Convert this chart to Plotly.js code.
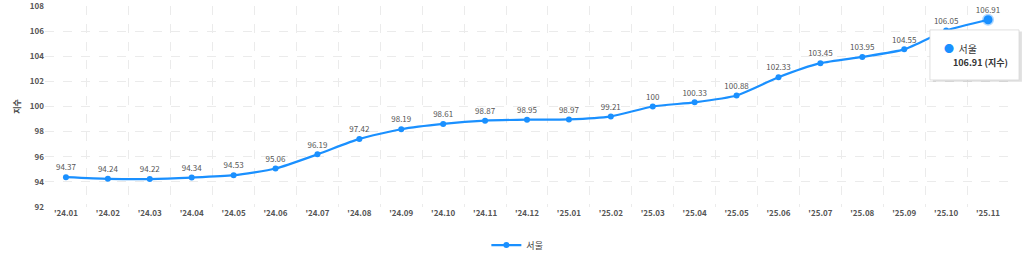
<!DOCTYPE html>
<html><head><meta charset="utf-8">
<script src="https://cdn.plot.ly/plotly-3.0.1.min.js"></script>
<style>html,body{margin:0;padding:0;background:#fff;}#chart{width:1024px;height:261px;}</style>
</head><body><div id="chart"></div>
<script>
const categories = ["'24.01","'24.02","'24.03","'24.04","'24.05","'24.06","'24.07","'24.08","'24.09","'24.10","'24.11","'24.12","'25.01","'25.02","'25.03","'25.04","'25.05","'25.06","'25.07","'25.08","'25.09","'25.10","'25.11"];
const seoul = [94.37,94.24,94.22,94.34,94.53,95.06,96.19,97.42,98.19,98.61,98.87,98.95,98.97,99.21,100,100.33,100.88,102.33,103.45,103.95,104.55,106.05,106.91];
const seriesName = "서울";
const yTicks = [92,94,96,98,100,102,104,106,108];
const unit = "지수";

const lineColor = "#1a90ff";
const font = "'Noto Sans CJK KR', 'Noto Sans', sans-serif";
const last = seoul.length - 1;

const traces = [
  {
    x: categories, y: seoul, name: seriesName, type: "scatter", mode: "lines+markers+text",
    line: {color: lineColor, width: 2.2, shape: "spline", smoothing: 0.6},
    marker: {color: lineColor, size: 6},
    text: seoul.map(v => String(v)), textposition: "top center",
    textfont: {family: font, size: 8, color: "#555"},
    hoverinfo: "skip", cliponaxis: false
  },
  {
    x: [categories[last]], y: [seoul[last]], type: "scatter", mode: "markers", showlegend: false,
    marker: {color: lineColor, size: 9, line: {color: "rgba(26,144,255,0.35)", width: 3}},
    hoverinfo: "skip", cliponaxis: false
  }
];

const layout = {
  width: 1024, height: 261,
  margin: {l: 45, r: 15, t: 6, b: 54, autoexpand: false},
  paper_bgcolor: "#fff", plot_bgcolor: "#fff",
  font: {family: font, size: 8, color: "#555"},
  showlegend: true,
  legend: {orientation: "h", x: 0.49, xanchor: "center", yref: "container", y: 0.061, yanchor: "middle",
           font: {family: font, size: 9, color: "#444"}},
  xaxis: {type: "category", range: [-0.5, categories.length - 0.5], autorange: false, automargin: false,
          tickson: "boundaries", showgrid: true, gridcolor: "#ebebeb", griddash: "dash",
          zeroline: false, showline: false, ticks: "", ticklen: 0,
          tickfont: {family: font, size: 8, color: "#555", weight: "bold"}},
  yaxis: {range: [91.999, 108.001], autorange: false, automargin: false, tickvals: yTicks,
          ticklabeloverflow: "allow",
          showgrid: true, gridcolor: "#ebebeb", griddash: "dash",
          zeroline: false, showline: false, ticks: "",
          tickfont: {family: font, size: 8, color: "#555", weight: "bold"},
          title: {text: unit, font: {family: font, size: 8, color: "#444", weight: "bold"}, standoff: 8}},
  shapes: [
    {type: "rect", xref: "paper", yref: "paper", x0: 0.921, x1: 1.0134, y0: 0.623, y1: 0.873,
     fillcolor: "rgba(0,0,0,0.12)", line: {width: 0}, layer: "above"},
    {type: "rect", xref: "paper", yref: "paper", x0: 0.918, x1: 1.0104, y0: 0.632, y1: 0.881,
     fillcolor: "#fff", line: {color: "#d8d8d8", width: 0.8}, layer: "above"}
  ],
  annotations: [
    {xref: "paper", yref: "paper", x: 0.93, y: 0.79, xanchor: "left", yanchor: "middle", showarrow: false,
     text: '<span style="color:' + lineColor + '">●</span>  ' + seriesName,
     font: {family: font, size: 10, color: "#333"}},
    {xref: "paper", yref: "paper", x: 0.94, y: 0.72, xanchor: "left", yanchor: "middle", showarrow: false,
     text: '<b>' + seoul[last] + ' (' + unit + ')</b>',
     font: {family: font, size: 9, color: "#333"}}
  ]
};

Plotly.newPlot("chart", traces, layout, {displayModeBar: false, staticPlot: true});
</script></body></html>
